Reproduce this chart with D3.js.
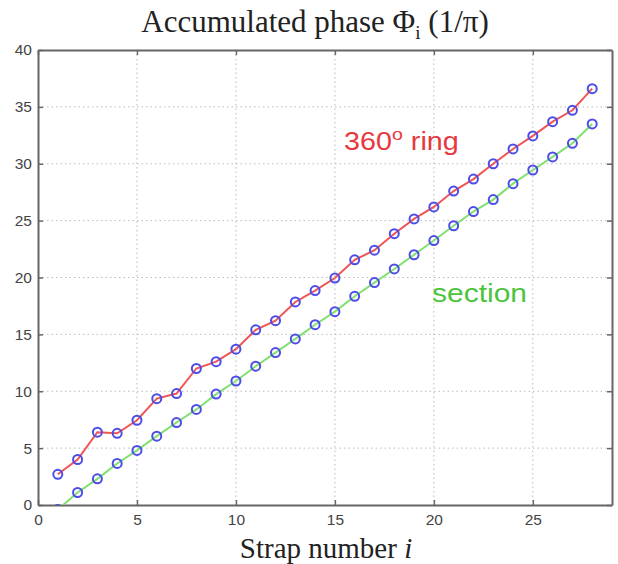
<!DOCTYPE html>
<html>
<head>
<meta charset="utf-8">
<title>Accumulated phase</title>
<script src="https://d3js.org/d3.v7.min.js"></script>
<style>
  body { margin: 0; background: #fff; }
  .tick text { font-family: "Liberation Sans", Arial, sans-serif; font-size: 15.5px; fill: #444; }
</style>
</head>
<body>
<div id="chart"></div>
<script>
// strap index and accumulated phase (units of pi)
var straps = d3.range(1, 29);
var ringPhase = [2.7, 4.0, 6.4, 6.3, 7.45, 9.35, 9.8, 12.0, 12.6, 13.7, 15.4, 16.2, 17.85, 18.85,
                 19.95, 21.55, 22.4, 23.85, 25.15, 26.2, 27.6, 28.65, 30.0, 31.3, 32.45, 33.7, 34.7, 36.6];
var sectionPhase = [-0.4, 1.1, 2.3, 3.65, 4.8, 6.05, 7.25, 8.4, 9.75, 10.9, 12.2, 13.4, 14.6, 15.85,
                    17.0, 18.35, 19.55, 20.75, 22.0, 23.25, 24.55, 25.8, 26.85, 28.25, 29.45, 30.6, 31.8, 33.5];
var xTicks = [0, 5, 10, 15, 20, 25];
var yTicks = [0, 5, 10, 15, 20, 25, 30, 35, 40];

var W = 618, H = 564;
var marg = {top: 50, right: 6, bottom: 59, left: 38};
var w = W - marg.left - marg.right, h = H - marg.top - marg.bottom;

var svg = d3.select("#chart").append("svg")
    .attr("width", W).attr("height", H);
var g = svg.append("g").attr("transform", "translate(" + marg.left + "," + marg.top + ")");

var x = d3.scaleLinear().domain([0, 29]).range([0, w]);
var y = d3.scaleLinear().domain([0, 40]).range([h, 0]);

g.append("clipPath").attr("id", "clip")
  .append("rect").attr("width", w).attr("height", h);

// grid
g.append("g").selectAll("line").data(xTicks.slice(1)).join("line")
  .attr("x1", d => x(d)).attr("x2", d => x(d)).attr("y1", 0).attr("y2", h)
  .attr("stroke", "#bbb").attr("stroke-dasharray", "1.5,3");
g.append("g").selectAll("line").data(yTicks.slice(1, -1)).join("line")
  .attr("y1", d => y(d)).attr("y2", d => y(d)).attr("x1", 0).attr("x2", w)
  .attr("stroke", "#bbb").attr("stroke-dasharray", "1.5,3");

// axes (ticks inward, box all round)
g.append("g").attr("transform", "translate(0," + h + ")")
  .call(d3.axisBottom(x).tickValues(xTicks).tickSizeInner(-5).tickSizeOuter(0).tickPadding(9));
g.append("g")
  .call(d3.axisLeft(y).tickValues(yTicks).tickSizeInner(-5).tickSizeOuter(0).tickPadding(6));
g.append("g").attr("transform", "translate(" + w + ",0)")
  .call(d3.axisRight(y).tickValues(yTicks).tickSizeInner(-5).tickSizeOuter(0).tickFormat(""));
g.append("g")
  .call(d3.axisTop(x).tickValues(xTicks).tickSizeInner(-5).tickSizeOuter(0).tickFormat(""));
g.selectAll(".domain").attr("stroke", "#666").attr("stroke-width", 2);
g.selectAll(".tick line").attr("stroke", "#666").attr("stroke-width", 1.5);

// lines + markers
var line = d3.line().x((d, i) => x(straps[i])).y(d => y(d));
var plot = g.append("g").attr("clip-path", "url(#clip)");
plot.append("path").datum(sectionPhase).attr("d", line)
  .attr("fill", "none").attr("stroke", "#80e070").attr("stroke-width", 2);
plot.append("path").datum(ringPhase).attr("d", line)
  .attr("fill", "none").attr("stroke", "#f05555").attr("stroke-width", 2);

[sectionPhase, ringPhase].forEach(function(arr) {
  plot.append("g").selectAll("circle").data(arr).join("circle")
    .attr("cx", (d, i) => x(straps[i])).attr("cy", d => y(d)).attr("r", 4.5)
    .attr("fill", "none").attr("stroke", "#4c4ce8").attr("stroke-width", 2);
});

// labels
var serif = "'Liberation Serif', 'Times New Roman', serif";
var sans = "'Liberation Sans', Arial, sans-serif";
svg.append("text").attr("x", 315).attr("y", 32).attr("text-anchor", "middle")
  .style("font-family", serif).style("font-size", "31px").attr("fill", "#222")
  .html("Accumulated phase &#934;<tspan dy='7' font-size='19'>i</tspan><tspan dy='-7'> (1/&#960;)</tspan>");
svg.append("text").attr("x", 326).attr("y", 558).attr("text-anchor", "middle")
  .style("font-family", serif).style("font-size", "29px").attr("fill", "#222")
  .html("Strap number <tspan font-style='italic'>i</tspan>");
svg.append("text").attr("transform", "translate(344,150) scale(1.15,1)")
  .style("font-family", sans).style("font-size", "25px").attr("fill", "#e8383d")
  .html("360<tspan dy='-10' font-size='17'>o</tspan><tspan dy='10'> ring</tspan>");
svg.append("text").attr("transform", "translate(432,302) scale(1.2,1)")
  .style("font-family", sans).style("font-size", "25px").attr("fill", "#4cc43c")
  .text("section");
</script>
</body>
</html>
